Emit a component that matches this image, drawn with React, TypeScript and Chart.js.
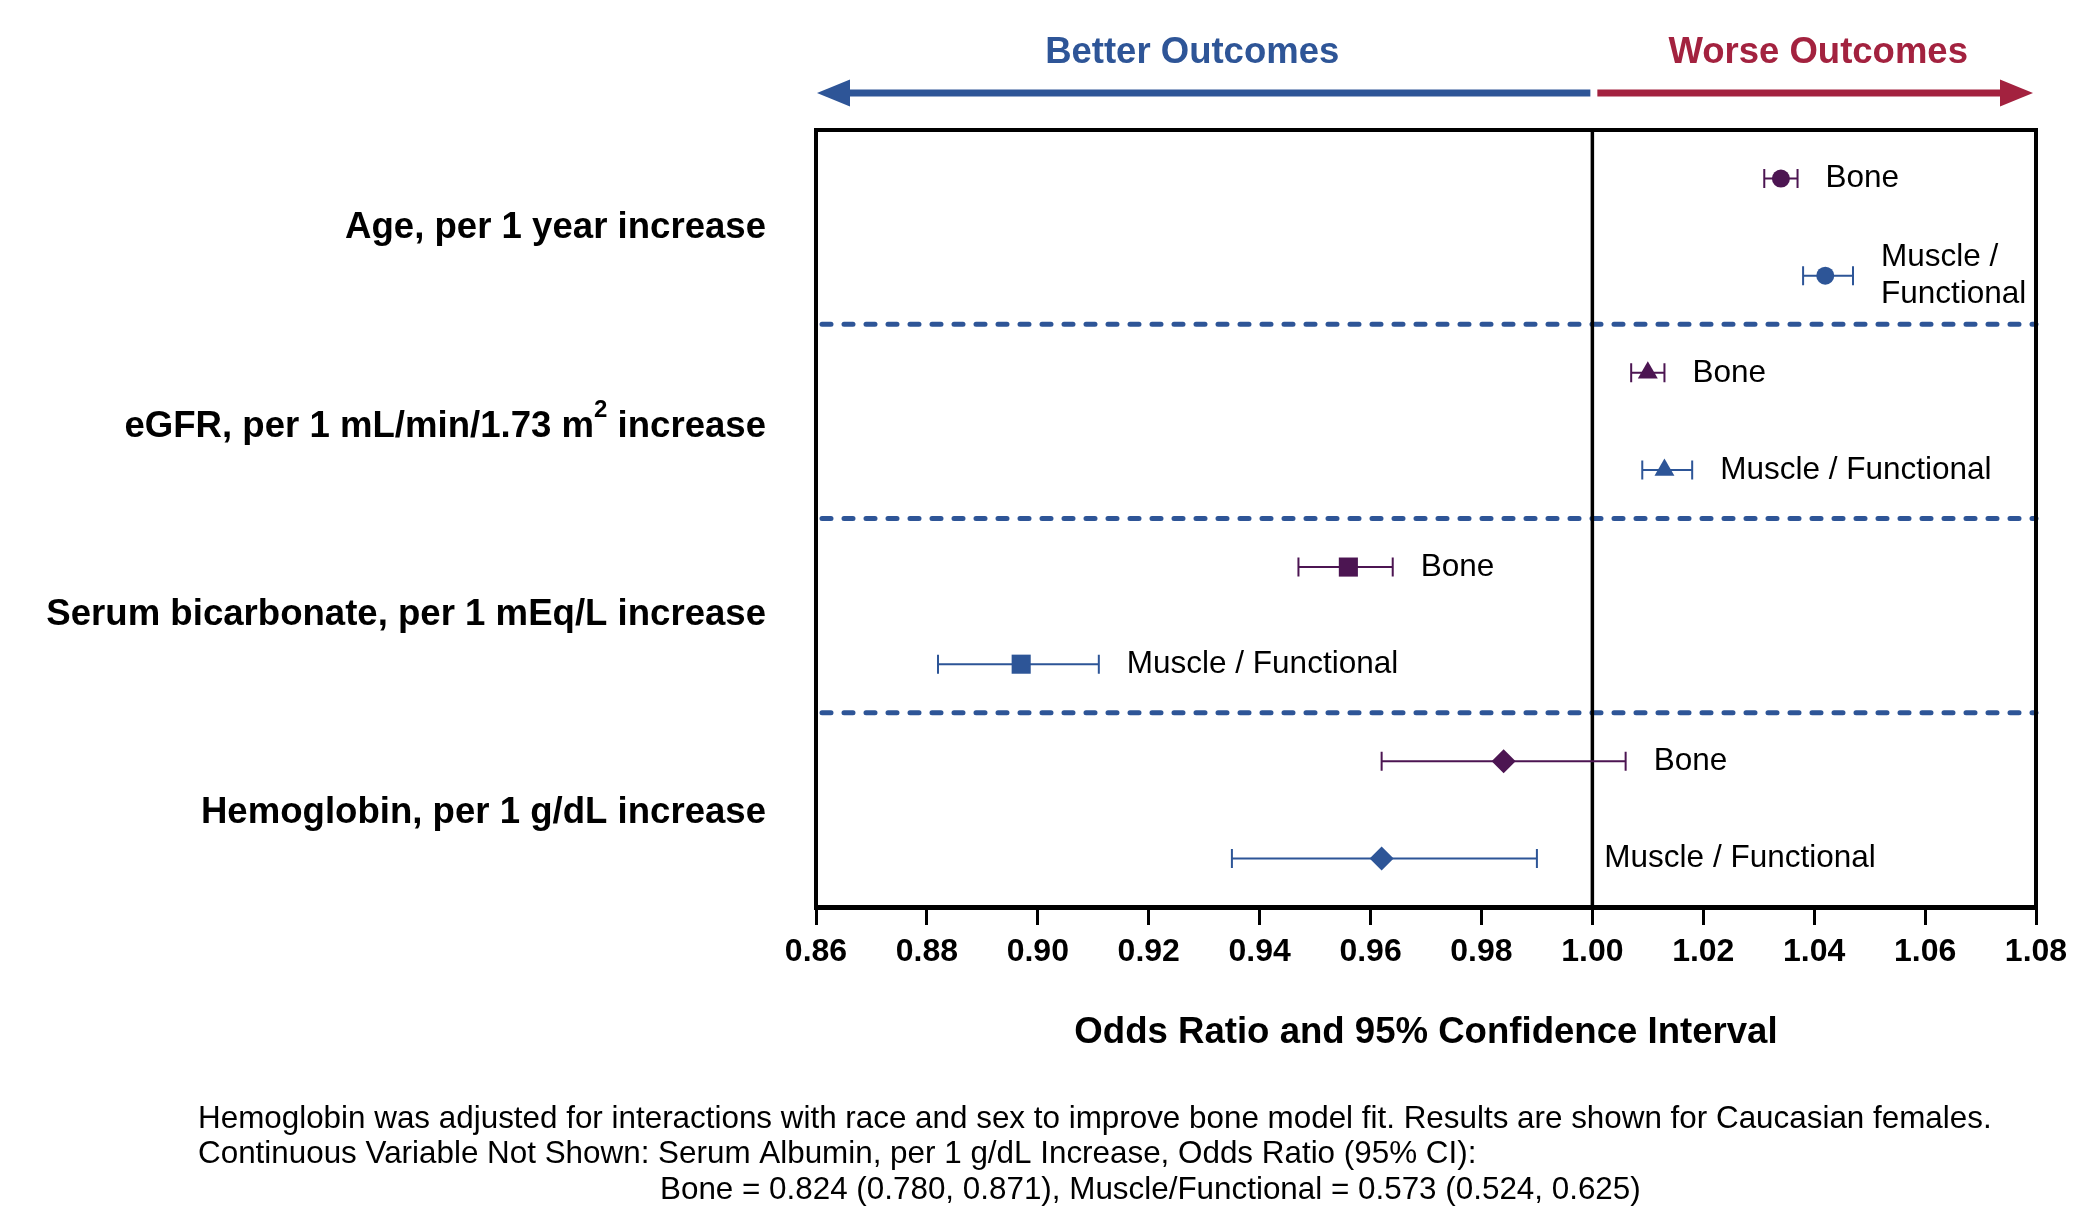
import React, { useEffect, useRef } from 'react';
import { Chart, registerables } from 'chart.js';

Chart.register(...registerables);

// ---------------- data ----------------
const categories = [
  'Age, per 1 year increase',
  'eGFR, per 1 mL/min/1.73 m^2 increase',
  'Serum bicarbonate, per 1 mEq/L increase',
  'Hemoglobin, per 1 g/dL increase',
];
const seriesNames = ['Bone', 'Muscle / Functional'];
const boneOR = [1.034, 1.010, 0.956, 0.984];
const boneLower = [1.031, 1.007, 0.947, 0.962];
const boneUpper = [1.037, 1.013, 0.964, 1.006];
const muscleOR = [1.042, 1.013, 0.897, 0.962];
const muscleLower = [1.038, 1.009, 0.882, 0.935];
const muscleUpper = [1.047, 1.018, 0.911, 0.990];
const markerStyles = ['circle', 'triangle', 'rect', 'rectRot'];
const xTickValues = [0.86, 0.88, 0.90, 0.92, 0.94, 0.96, 0.98, 1.00, 1.02, 1.04, 1.06, 1.08];
const referenceValue = 1.0;
const directionLabels = ['Better Outcomes', 'Worse Outcomes'];
const xAxisTitle = 'Odds Ratio and 95% Confidence Interval';
const footnotes = [
  'Hemoglobin was adjusted for interactions with race and sex to improve bone model fit. Results are shown for Caucasian females.',
  'Continuous Variable Not Shown: Serum Albumin, per 1 g/dL Increase, Odds Ratio (95% CI):',
  'Bone = 0.824 (0.780, 0.871), Muscle/Functional = 0.573 (0.524, 0.625)',
];

// ---------------- styles ----------------
const FONT = 'Arial, "Liberation Sans", Helvetica, sans-serif';
const BONE_COLOR = '#4C1552';
const MUSCLE_COLOR = '#2D5597';
const DASH_COLOR = '#2E5597';
const BETTER_COLOR = '#2E5597';
const WORSE_COLOR = '#A3223F';
const markerRadius: Record<string, number> = { circle: 9, triangle: 11.5, rect: 13.5, rectRot: 12 };
const categoryLabelNudge = [-1, 4, -3, 1];

const seriesOR = [boneOR, muscleOR];
const seriesLower = [boneLower, muscleLower];
const seriesUpper = [boneUpper, muscleUpper];
const seriesColors = [BONE_COLOR, MUSCLE_COLOR];

const rowValue = (cat: number, s: number) => cat * 2 + s + 0.5;

function drawArrow(ctx: CanvasRenderingContext2D, xFrom: number, xTip: number, yy: number, color: string) {
  const dir = Math.sign(xTip - xFrom);
  const headLen = 33;
  const headHalf = 13.5;
  const thick = 7;
  const baseX = xTip - dir * headLen;
  ctx.fillStyle = color;
  ctx.fillRect(Math.min(xFrom, baseX), yy - thick / 2, Math.abs(baseX - xFrom) + 1, thick);
  ctx.beginPath();
  ctx.moveTo(xTip, yy);
  ctx.lineTo(baseX, yy - headHalf);
  ctx.lineTo(baseX, yy + headHalf);
  ctx.closePath();
  ctx.fill();
}

const forestPlugin = {
  id: 'forest',
  beforeDatasetsDraw(chart: any) {
    const { ctx, chartArea: a, scales } = chart;
    const x = scales.x;
    const y = scales.y;
    ctx.save();
    // dashed separators between categories
    ctx.strokeStyle = DASH_COLOR;
    ctx.lineWidth = 5;
    ctx.lineCap = 'round';
    ctx.setLineDash([9, 13]);
    for (let k = 1; k < categories.length; k++) {
      const py = y.getPixelForValue(k * 2);
      ctx.beginPath();
      ctx.moveTo(a.left + 6, py);
      ctx.lineTo(a.right, py);
      ctx.stroke();
    }
    ctx.setLineDash([]);
    ctx.lineCap = 'butt';
    // reference line at OR = 1
    const px1 = x.getPixelForValue(referenceValue);
    ctx.strokeStyle = '#000';
    ctx.lineWidth = 3.5;
    ctx.beginPath();
    ctx.moveTo(px1, a.top);
    ctx.lineTo(px1, a.bottom);
    ctx.stroke();
    // error bars
    ctx.lineWidth = 2;
    for (let s = 0; s < 2; s++) {
      ctx.strokeStyle = seriesColors[s];
      for (let i = 0; i < categories.length; i++) {
        const py = y.getPixelForValue(rowValue(i, s));
        const xl = x.getPixelForValue(seriesLower[s][i]);
        const xh = x.getPixelForValue(seriesUpper[s][i]);
        const cap = 9.5;
        ctx.beginPath();
        ctx.moveTo(xl, py);
        ctx.lineTo(xh, py);
        ctx.moveTo(xl, py - cap);
        ctx.lineTo(xl, py + cap);
        ctx.moveTo(xh, py - cap);
        ctx.lineTo(xh, py + cap);
        ctx.stroke();
      }
    }
    ctx.restore();
  },
  afterDatasetsDraw(chart: any) {
    const { ctx, chartArea: a, scales } = chart;
    const x = scales.x;
    const y = scales.y;
    const px1 = x.getPixelForValue(referenceValue);
    ctx.save();
    ctx.font = `31.5px ${FONT}`;
    ctx.fillStyle = '#000';
    ctx.textBaseline = 'middle';
    ctx.textAlign = 'left';
    for (let i = 0; i < categories.length; i++) {
      for (let s = 0; s < 2; s++) {
        const name = seriesNames[s];
        const py = y.getPixelForValue(rowValue(i, s));
        let lx = x.getPixelForValue(seriesUpper[s][i]) + 28;
        const w = ctx.measureText(name).width;
        if (lx < px1 && lx + w > px1 - 10) lx = px1 + 12;
        if (lx + w > a.right - 6 && name.includes(' / ')) {
          const lines = name.replace(' / ', ' /\n').split('\n');
          ctx.fillText(lines[0], lx, py - 18.5);
          ctx.fillText(lines[1], lx, py + 18.5);
        } else {
          ctx.fillText(name, lx, py);
        }
      }
    }
    ctx.restore();
  },
  afterDraw(chart: any) {
    const { ctx, chartArea: a, scales } = chart;
    const x = scales.x;
    const y = scales.y;
    const px1 = x.getPixelForValue(referenceValue);
    ctx.save();
    // frame
    ctx.strokeStyle = '#000';
    ctx.lineWidth = 4;
    ctx.strokeRect(a.left, a.top, a.right - a.left, a.bottom - a.top);

    // direction arrows and labels
    const arrowY = a.top - 37;
    drawArrow(ctx, px1 - 3, a.left + 1, arrowY, BETTER_COLOR);
    drawArrow(ctx, px1 + 5, a.right - 3, arrowY, WORSE_COLOR);
    ctx.font = `bold 36.5px ${FONT}`;
    ctx.textAlign = 'center';
    ctx.textBaseline = 'middle';
    ctx.fillStyle = BETTER_COLOR;
    ctx.fillText(directionLabels[0], (a.left + px1) / 2 - 12, a.top - 77);
    ctx.fillStyle = WORSE_COLOR;
    ctx.fillText(directionLabels[1], (px1 + a.right) / 2 + 4, a.top - 77);

    // category labels (with superscript support via ^)
    ctx.fillStyle = '#000';
    ctx.textAlign = 'left';
    ctx.textBaseline = 'alphabetic';
    const rightEdge = a.left - 50;
    const mainFont = `bold 36.6px ${FONT}`;
    const supFont = `bold 24px ${FONT}`;
    categories.forEach((label, i) => {
      const parts = label.split(/\^(\w+)/);
      const widths = parts.map((p, j) => {
        ctx.font = j % 2 === 1 ? supFont : mainFont;
        return ctx.measureText(p).width;
      });
      const total = widths.reduce((s, v) => s + v, 0);
      const base = y.getPixelForValue(i * 2 + 1) + 12 + categoryLabelNudge[i];
      let cx = rightEdge - total;
      parts.forEach((p, j) => {
        const sup = j % 2 === 1;
        ctx.font = sup ? supFont : mainFont;
        ctx.fillText(p, cx, sup ? base - 20 : base);
        cx += widths[j];
      });
    });

    // footnotes
    ctx.font = `31.4px ${FONT}`;
    ctx.fillStyle = '#000';
    ctx.textAlign = 'left';
    ctx.fillText(footnotes[0], 198, 1128);
    ctx.fillText(footnotes[1], 198, 1163);
    ctx.fillText(footnotes[2], 660, 1199);
    ctx.restore();
  },
};

export default function App() {
  const ref = useRef<HTMLCanvasElement>(null);
  useEffect(() => {
    document.body.style.margin = '0';
    const canvas = ref.current;
    if (!canvas) return;
    const datasets = [0, 1].map((s) => ({
      label: seriesNames[s],
      data: seriesOR[s].map((v, i) => ({ x: v, y: rowValue(i, s) })),
      pointStyle: markerStyles as any,
      pointRadius: markerStyles.map((m) => markerRadius[m]),
      pointBackgroundColor: seriesColors[s],
      pointBorderColor: seriesColors[s],
      pointBorderWidth: 0,
      showLine: false,
    }));
    const chart = new Chart(canvas, {
      type: 'scatter',
      data: { datasets },
      options: {
        animation: false,
        responsive: false,
        events: [],
        layout: { padding: { left: 816, right: 37, top: 130, bottom: 139 } },
        plugins: {
          legend: { display: false },
          tooltip: { enabled: false },
        },
        scales: {
          x: {
            type: 'linear',
            position: 'bottom',
            min: xTickValues[0],
            max: xTickValues[xTickValues.length - 1],
            afterBuildTicks: (scale: any) => {
              scale.ticks = xTickValues.map((v) => ({ value: v }));
            },
            afterFit: (scale: any) => {
              scale.height = 160;
              scale.paddingLeft = 0;
              scale.paddingRight = 0;
            },
            ticks: {
              autoSkip: false,
              maxRotation: 0,
              padding: 8,
              color: '#000',
              font: { family: FONT, size: 32, weight: 'bold' },
              callback: (v: any) => Number(v).toFixed(2),
            },
            grid: {
              drawOnChartArea: false,
              drawTicks: true,
              tickLength: 18,
              tickWidth: 3,
              tickColor: '#000',
              color: '#000',
              lineWidth: 3,
            },
            border: { display: true, color: '#000', width: 5 },
            title: {
              display: true,
              text: xAxisTitle,
              color: '#000',
              font: { family: FONT, size: 36.6, weight: 'bold' },
              padding: { top: 0, bottom: 12 },
            },
          },
          y: {
            type: 'linear',
            display: false,
            min: 0,
            max: categories.length * 2,
            reverse: true,
          },
        },
      },
      plugins: [forestPlugin],
    });
    return () => chart.destroy();
  }, []);
  return (
    <div style={{ width: 2073, height: 1206 }}>
      <canvas ref={ref} width={2073} height={1206} style={{ display: 'block', width: 2073, height: 1206 }} />
    </div>
  );
}
